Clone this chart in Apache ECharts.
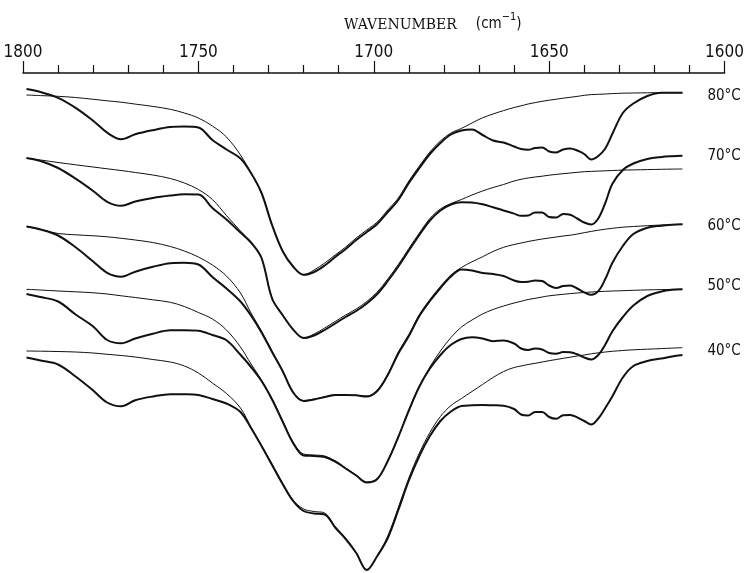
<!DOCTYPE html>
<html>
<head>
<meta charset="utf-8">
<style>
  html, body { margin: 0; padding: 0; background: #fff; }
  #chart { width: 747px; height: 573px; }
</style>
<script src="https://cdn.jsdelivr.net/npm/echarts@6/dist/echarts.min.js"></script>
</head>
<body>
<div id="chart"></div>
<script>
// Wavenumber sampling (cm-1)
const wavenumber = [1799,1795,1790,1785,1780,1776,1772,1768,1763,1758,1754,1750,1746,1742,1738,1735,1732,1729,1726,1723,1720,1717,1714,1711,1708,1705,1702,1699,1696,1693,1690,1687,1684,1681,1678,1675,1672,1669,1666,1663,1660,1658,1656,1654,1652,1650,1648,1646,1644,1642,1640,1638,1636,1634,1632,1629,1626,1622,1618,1615,1612];

// Offset transmittance (arbitrary units) — measured (thick) and fitted (thin) spectra
const meas80 = [484,481,475.2,465.2,452.3,440.3,433.8,438.7,442.8,446,446.5,445.5,433,423.5,414.5,400,380,348,322,306.5,298.2,301,307.5,316,324,333,341,349,361,373,390,405,419,430,438.5,442.5,443.5,438,432.5,430.5,426.5,424,423.2,425,425.5,421.5,420.5,423.5,424.5,422.5,419,413.5,417,424.5,439,460,469.5,477,480.3,480.3,480.3];
const fit80  = [478,477.4,476.7,475.5,473.7,472.2,470.8,468.9,466.6,463.7,460,455,447,436,418,400,380,348,322,306.5,298.2,303,310,318,326,335,343,351,363,375,392,407,421,432,440,444.6,450,455.2,459,462.4,465.5,467.2,469,470.4,471.7,472.8,473.8,474.8,475.7,476.6,477.7,478.4,478.7,479,479.4,479.8,480,480.2,480.3,480.3,480.3];
const meas70 = [415,412,405,394.3,382,371.2,367.2,371.5,375,377.4,378.7,378.5,365,353.5,340.5,330.5,315,274.5,258,243.5,235,237.5,243,249.5,256,262,269.5,279,292,306.5,322.5,338,352.5,362.5,368.5,370.8,370.5,368.7,365.7,362.5,359.4,357.2,357.5,360.5,360.5,356,355.5,359,358.2,354.5,350.5,348.5,354.5,370,389,403,409.5,414,416,416.8,417.3];
const fit70  = [414.7,413,410.5,408.2,406,404.2,402.5,400.5,398,394.5,390,383.5,373.5,357.5,342,331,315,275,258,243.5,235,239,245,251.5,258,264,271.5,281,294,308.5,324.5,340,354.5,364,369.5,373.5,378,382,385.5,388.5,392,393.7,395,396,396.8,397.8,398.6,399.3,400,400.7,401.3,401.6,401.9,402.2,402.5,402.9,403.1,403.4,403.7,403.9,404];
const meas60 = [346.5,343.5,337.5,325.7,311.5,300.2,296.3,301.3,306.2,309.8,310.2,308.5,296,284.5,271.5,257.5,240.5,221,202,180.5,172,173.5,176,178,178,177.7,176.5,182,198,219.5,237,257,272,285,296.5,303.5,302.5,300,299,297,292.5,291,291.3,292.5,292,287.5,285,287,287.4,284.5,280.7,278.2,281.8,294,310,327,339,345.3,347.3,348.2,348.7];
const fit60  = [346.5,343.5,339.5,338.2,337.2,336.2,334.7,333,330.5,326.5,322,316,308,297,280,260,242,222,202.5,181.5,172.5,174,176,177.5,177.5,177.5,177,183,199,221,238.5,258.5,273.5,286.5,298,305.5,311.2,316.2,321.5,325.7,328.5,330,331.5,332.8,334,335,336,337,337.8,339,340.3,341.6,342.8,343.8,344.7,345.8,346.5,347.3,348,348.4,348.7];
const meas50 = [279,276,271.5,258.5,246.5,233,229.7,234.5,239.3,242.7,242.8,242.3,238,232.7,218.2,206,192,173.5,151.5,130,117.5,117,116,111.5,104.5,97.5,90.5,94,112,136,162.5,186.5,204.5,218,228.2,234,235.7,234.5,231.8,232.5,229.5,224.5,223,224.4,223.5,220,219.3,221,220.8,218.7,215.5,213.5,218,228.5,241.5,256,267.5,277,281.5,283.2,283.7];
const fit50  = [283.7,283,282,281.2,280.2,279,277.2,275.5,273.2,270.7,266.5,260.5,254,243,226,209,193,174.5,152.5,131,119,118,117,112,105,98,91,94.5,112.5,136.5,163,187,206,222,235.5,246,253,259,263.5,267,270,271.7,273.5,274.7,276,277.2,278,278.7,279.4,280,280.5,281,281.4,281.7,282,282.3,282.7,283.1,283.4,283.6,283.7];
const meas40 = [215.5,212.5,208.5,196.5,182.5,170.5,166.7,172.8,176.5,178.8,178.7,178,174,169.5,161,145,127,108,89,72,62,59.5,58.5,45.5,34,20,3,17,35,63,92.5,117,137,152,161.5,167,167.7,168,167.7,167.3,164,158.5,157.5,161,161,156,154.2,157.7,158,155.7,152,148.5,154.5,165,176.5,195.5,207,212,214.5,216.5,218];
const fit40  = [222,221.8,221.5,221,220,218.7,217.5,216,213.5,211,207,200,190,179.5,165,146,127.5,109,90,73,64,61.5,60,46.5,34.5,20.5,3.5,17,37,65.5,95,120,140.5,156.5,167.5,174.5,181.5,188.5,195.5,201.5,205.5,207,208.5,209.7,211,212.3,213.5,214.7,215.8,217,218,219.2,220.2,221,221.7,222.5,223.2,223.8,224.4,224.9,225.3];

const temperatures = ['80°C', '70°C', '60°C', '50°C', '40°C'];
const measured = [meas80, meas70, meas60, meas50, meas40];
const fitted = [fit80, fit70, fit60, fit50, fit40];

const axisTitle = 'WAVENUMBER';
const axisUnit = 'cm';
const axisUnitExp = '−1';

const labelOffsets = [[0, 3], [0, 0], [0, 2], [0, -3], [0, -4]];
const ink = '#111';
const narrow = "'Liberation Sans Narrow', 'DejaVu Sans Condensed', 'Liberation Sans', sans-serif";

function pairs(vals) { return wavenumber.map((w, i) => [w, vals[i]]); }

const series = [];
fitted.forEach((vals, i) => {
  series.push({
    type: 'line', name: 'fit ' + temperatures[i], data: pairs(vals),
    showSymbol: false, smooth: 0.35, silent: true, z: 2,
    lineStyle: { color: ink, width: 1 }
  });
});
measured.forEach((vals, i) => {
  series.push({
    type: 'line', name: temperatures[i], data: pairs(vals),
    showSymbol: false, smooth: 0.35, silent: true, z: 3,
    lineStyle: { color: ink, width: 2 },
    endLabel: {
      show: true, formatter: temperatures[i], distance: -25, align: 'left',
      offset: labelOffsets[i],
      fontFamily: narrow, fontSize: 15, color: ink
    }
  });
});

const chart = echarts.init(document.getElementById('chart'), null, { renderer: 'canvas' });
chart.setOption({
  animation: false,
  backgroundColor: '#fff',
  title: {
    text: '{a|' + axisTitle + '}{p|(' + axisUnit + '}{s|' + axisUnitExp + '}{b|)}',
    left: 339, top: 7,
    textStyle: {
      fontWeight: 'normal',
      rich: {
        a: { fontFamily: 'DejaVu Serif', fontSize: 14, fontWeight: 'normal', color: ink, lineHeight: 20, verticalAlign: 'bottom' },
        p: { fontFamily: narrow, fontSize: 15, fontWeight: 'normal', color: ink, lineHeight: 20, verticalAlign: 'bottom', padding: [0, 0, 0, 19] },
        b: { fontFamily: narrow, fontSize: 15, fontWeight: 'normal', color: ink, lineHeight: 20, verticalAlign: 'bottom' },
        s: { fontFamily: narrow, fontSize: 11, fontWeight: 'normal', color: ink, lineHeight: 20, verticalAlign: 'top' }
      }
    }
  },
  grid: { left: 23, right: 18, top: 73, height: 500 },
  xAxis: {
    type: 'value', position: 'top', inverse: true,
    min: 1600, max: 1800, interval: 50,
    axisLine: { show: true, onZero: false, lineStyle: { color: ink, width: 1.5 } },
    axisTick: { show: true, length: 12, lineStyle: { color: ink, width: 1.2 } },
    minorTick: { show: true, splitNumber: 5, length: 8, lineStyle: { color: ink, width: 1.2 } },
    splitLine: { show: false },
    minorSplitLine: { show: false },
    axisLabel: { margin: 12, fontFamily: narrow, fontSize: 17, color: ink, formatter: function (v) { return String(v); } }
  },
  yAxis: { type: 'value', min: 0, max: 500, show: false },
  series: series
});
</script>
</body>
</html>
